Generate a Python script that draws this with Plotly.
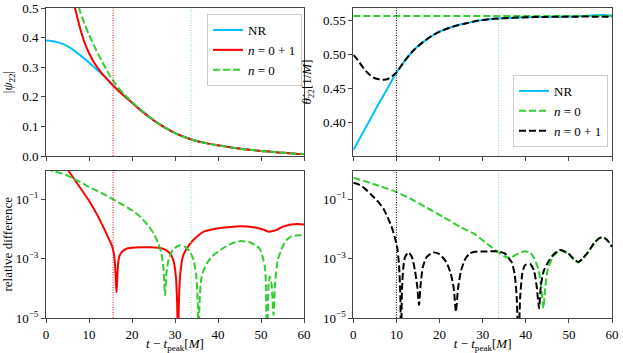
import numpy as np
import plotly.graph_objects as go
from plotly.subplots import make_subplots

# ---------------- top-left: |psi_22| ----------------
t_amp_nr = [0, 2, 4, 6, 8, 10, 12, 14, 16, 18, 20, 22, 24, 26, 28, 30, 32, 34, 36, 38, 40,
            42, 44, 46, 48, 50, 52, 54, 56, 58, 60]
amp_nr = [0.390, 0.387, 0.378, 0.362, 0.340, 0.316, 0.290, 0.263, 0.232, 0.205, 0.180, 0.155,
          0.132, 0.111, 0.093, 0.077, 0.065, 0.055, 0.047, 0.041, 0.036, 0.031, 0.027, 0.023,
          0.020, 0.017, 0.015, 0.012, 0.010, 0.008, 0.007]

t_amp_n01 = [6, 7, 8, 9, 10, 11, 12, 13, 14, 16, 18, 20, 22, 24, 26, 28, 30, 32, 34, 36, 38, 40,
             42, 44, 46, 48, 50, 52, 54, 56, 58, 60]
amp_n01 = [0.545, 0.485, 0.428, 0.382, 0.348, 0.320, 0.298, 0.279, 0.263, 0.232, 0.205, 0.180,
           0.155, 0.132, 0.111, 0.093, 0.077, 0.065, 0.055, 0.047, 0.041, 0.036, 0.031, 0.027,
           0.023, 0.020, 0.017, 0.015, 0.012, 0.010, 0.008, 0.007]

t_amp_n0 = [7, 8, 9, 10, 11, 12, 13, 14, 15, 16, 18, 20, 22, 24, 26, 28, 30, 32, 34, 36, 38, 40,
            42, 44, 46, 48, 50, 52, 54, 56, 58, 60]
amp_n0 = [0.535, 0.485, 0.445, 0.410, 0.378, 0.348, 0.320, 0.294, 0.268, 0.246, 0.211, 0.183,
          0.157, 0.133, 0.111, 0.093, 0.077, 0.065, 0.055, 0.047, 0.041, 0.036, 0.031, 0.027,
          0.023, 0.020, 0.017, 0.015, 0.012, 0.010, 0.008, 0.007]

# ---------------- top-right: frequency ----------------
t_freq_nr = [0, 2, 4, 6, 8, 10, 12, 14, 16, 18, 20, 22, 24, 26, 28, 30, 32, 34, 36, 40, 44, 48,
             52, 56, 58, 60]
freq_nr = [0.360, 0.383, 0.406, 0.429, 0.451, 0.473, 0.491, 0.506, 0.517, 0.526, 0.533, 0.538,
           0.542, 0.545, 0.548, 0.550, 0.5515, 0.5525, 0.553, 0.554, 0.5545, 0.555, 0.5555,
           0.557, 0.5575, 0.5565]

t_freq_n0 = [0, 60]
freq_n0 = [0.5559, 0.5559]

t_freq_n01 = [0, 1, 2, 3, 4, 5, 6, 7, 8, 9, 10, 12, 14, 16, 18, 20, 22, 24, 26, 28, 30, 32, 34,
              36, 40, 44, 48, 52, 56, 60]
freq_n01 = [0.499, 0.492, 0.483, 0.475, 0.469, 0.465, 0.4635, 0.4628, 0.464, 0.468, 0.4735,
            0.491, 0.506, 0.517, 0.526, 0.533, 0.538, 0.542, 0.545, 0.548, 0.550, 0.5515,
            0.5525, 0.553, 0.554, 0.5545, 0.5548, 0.555, 0.555, 0.555]

# ---------------- bottom-left: relative difference of amplitude (log10 values) ----------------
t_rd_amp_n01 = [4, 6, 8, 10, 12, 13.3, 14.5, 15.3, 15.8, 16.1, 16.3, 16.4, 16.5, 16.7, 17.0,
                17.6, 18.8, 20, 22, 24, 26, 27, 28, 29, 29.7, 30.2, 30.5, 30.7, 30.9, 31.2,
                31.9, 33.5, 35, 36.6, 38.5, 40.5, 43, 45.1, 48.2, 50.5, 51.7, 52.5, 53.6, 55,
                56.7, 58.5, 60]
log_rd_amp_n01 = [0.22, -0.20, -0.62, -1.05, -1.55, -1.93, -2.30, -2.55, -2.85, -3.30, -3.90,
                  -4.13, -3.90, -3.30, -2.95, -2.78, -2.66, -2.63, -2.62, -2.62, -2.63, -2.66,
                  -2.72, -2.85, -3.10, -3.60, -4.50, -6.00, -4.50, -3.55, -2.90, -2.50, -2.27,
                  -2.10, -2.02, -1.97, -1.93, -1.91, -1.94, -2.02, -2.09, -2.08, -2.03, -1.93,
                  -1.86, -1.83, -1.85]

t_rd_amp_n0 = [0, 2, 4.8, 6.4, 8, 10, 12, 14, 15.6, 18, 20, 22, 24, 25, 26, 26.8, 27.3, 27.7,
               28.0, 28.5, 29.5, 31.2, 32.5, 33.5, 34.3, 34.9, 35.3, 35.5, 35.7, 36.2, 37.4,
               38.8, 40.5, 43, 45.1, 47.4, 49, 49.8, 50.5, 51.0, 51.4, 51.8, 52.1, 52.5, 52.9,
               53.3, 53.9, 55, 55.9, 57, 58.2, 59, 60]
log_rd_amp_n0 = [0.02, -0.06, -0.19, -0.30, -0.42, -0.59, -0.72, -0.87, -1.00, -1.20, -1.37,
                 -1.60, -1.93, -2.15, -2.44, -2.80, -3.30, -4.23, -3.50, -3.05, -2.70, -2.55,
                 -2.62, -2.77, -3.05, -3.50, -4.50, -6.00, -4.50, -3.60, -3.16, -2.90, -2.71,
                 -2.50, -2.41, -2.45, -2.58, -2.69, -3.00, -3.40, -6.00, -3.80, -3.60, -3.90,
                 -4.90, -3.80, -3.05, -2.60, -2.38, -2.26, -2.22, -2.21, -2.23]

# ---------------- bottom-right: relative difference of frequency (log10 values) ----------------
t_rd_freq_n0 = [0, 5, 10, 13.2, 17, 20.9, 24.8, 28.4, 31, 33.3, 35, 36.4, 38, 39.7, 41, 42, 43,
                43.6, 44.1, 44.5, 45.2, 46.5, 48, 49.9, 51, 52.2, 53.3, 54.5, 56, 57.2, 58,
                58.8, 60]
log_rd_freq_n0 = [-0.27, -0.50, -0.755, -0.98, -1.28, -1.60, -1.93, -2.20, -2.50, -2.75, -2.92,
                  -2.97, -2.85, -2.75, -2.80, -3.00, -3.40, -4.00, -4.67, -4.00, -3.30, -2.90,
                  -2.72, -2.83, -3.00, -3.13, -2.98, -2.77, -2.45, -2.30, -2.29, -2.36, -2.60]

t_rd_freq_n01 = [0, 1, 2.7, 4, 5.8, 7, 8.1, 9, 9.7, 10.2, 10.6, 10.9, 11.07, 11.3, 11.6, 12.0,
                 12.8, 13.6, 14.3, 14.8, 15.25, 15.6, 16.1, 17, 18.6, 20, 21.5, 22.6, 23.3,
                 23.8, 24.3, 25, 26, 27, 28.2, 30.5, 32.9, 34, 35.2, 36.1, 36.7, 37.4, 37.9,
                 38.3, 38.7, 39.2, 39.8, 41, 41.9, 42.5, 43.1, 43.5, 44.2, 45.2, 46.5, 48,
                 49.9, 51, 52.2, 53.3, 54.5, 56, 57.2, 58, 58.8, 60]
log_rd_freq_n01 = [-0.44, -0.48, -0.64, -0.82, -1.09, -1.32, -1.65, -1.98, -2.32, -2.65, -3.20,
                   -4.20, -6.00, -4.00, -3.30, -2.95, -2.79, -2.95, -3.40, -3.90, -4.56, -3.90,
                   -3.30, -2.95, -2.79, -2.85, -3.10, -3.50, -4.00, -4.79, -4.00, -3.40, -3.00,
                   -2.83, -2.77, -2.76, -2.75, -2.77, -2.83, -3.00, -3.11, -3.50, -4.30, -6.00,
                   -4.30, -3.50, -3.22, -3.18, -3.40, -3.90, -4.67, -3.90, -3.40, -3.11, -2.85,
                   -2.71, -2.83, -3.00, -3.11, -2.98, -2.77, -2.45, -2.30, -2.29, -2.36, -2.60]

# vertical marker times
t_fit_left = 15.6
t_fit_right = 10.0
t_fit_green = 33.7

x_ticks = [0, 10, 20, 30, 40, 50, 60]

BLUE = "#00BFFF"
RED = "#FF0000"
GREEN = "#32CD32"
BLACK = "#000000"
FONT = "Liberation Serif"
DASH = "7px,3px"
DOT = "1px,1.5px"

fig = make_subplots(rows=2, cols=2)

# top-left
fig.add_trace(go.Scatter(x=t_amp_nr, y=amp_nr, mode="lines", name="NR",
                         line=dict(color=BLUE, width=2, shape="spline", smoothing=0.8),
                         legend="legend"), row=1, col=1)
fig.add_trace(go.Scatter(x=t_amp_n01, y=amp_n01, mode="lines", name="<i>n</i> = 0 + 1",
                         line=dict(color=RED, width=2, shape="spline", smoothing=0.8),
                         legend="legend"), row=1, col=1)
fig.add_trace(go.Scatter(x=t_amp_n0, y=amp_n0, mode="lines", name="<i>n</i> = 0",
                         line=dict(color=GREEN, width=2, dash=DASH, shape="spline", smoothing=0.8),
                         legend="legend"), row=1, col=1)

# top-right
fig.add_trace(go.Scatter(x=t_freq_nr, y=freq_nr, mode="lines", name="NR",
                         line=dict(color=BLUE, width=2, shape="spline", smoothing=0.8),
                         legend="legend2"), row=1, col=2)
fig.add_trace(go.Scatter(x=t_freq_n0, y=freq_n0, mode="lines", name="<i>n</i> = 0",
                         line=dict(color=GREEN, width=2, dash=DASH),
                         legend="legend2"), row=1, col=2)
fig.add_trace(go.Scatter(x=t_freq_n01, y=freq_n01, mode="lines", name="<i>n</i> = 0 + 1",
                         line=dict(color=BLACK, width=2, dash=DASH, shape="spline", smoothing=0.8),
                         legend="legend2"), row=1, col=2)

# bottom-left
fig.add_trace(go.Scatter(x=t_rd_amp_n01, y=np.power(10.0, log_rd_amp_n01), mode="lines",
                         line=dict(color=RED, width=2, shape="spline", smoothing=0.6),
                         showlegend=False), row=2, col=1)
fig.add_trace(go.Scatter(x=t_rd_amp_n0, y=np.power(10.0, log_rd_amp_n0), mode="lines",
                         line=dict(color=GREEN, width=2, dash=DASH, shape="spline", smoothing=0.6),
                         showlegend=False), row=2, col=1)

# bottom-right
fig.add_trace(go.Scatter(x=t_rd_freq_n0, y=np.power(10.0, log_rd_freq_n0), mode="lines",
                         line=dict(color=GREEN, width=2, dash=DASH, shape="spline", smoothing=0.6),
                         showlegend=False), row=2, col=2)
fig.add_trace(go.Scatter(x=t_rd_freq_n01, y=np.power(10.0, log_rd_freq_n01), mode="lines",
                         line=dict(color=BLACK, width=2, dash=DASH, shape="spline", smoothing=0.6),
                         showlegend=False), row=2, col=2)

# vertical dotted lines
for r in (1, 2):
    fig.add_vline(x=t_fit_left, line=dict(color=RED, width=1, dash=DOT), row=r, col=1)
    fig.add_vline(x=t_fit_green, line=dict(color="#7FE07F", width=1, dash=DOT), row=r, col=1)
    fig.add_vline(x=t_fit_right, line=dict(color=BLACK, width=1, dash=DOT), row=r, col=2)
    fig.add_vline(x=t_fit_green, line=dict(color="#7FE07F", width=1, dash=DOT), row=r, col=2)

xl = [46 / 623, 304 / 623]
xr = [353.3 / 623, 612 / 623]
yt = [1 - 156 / 353, 1 - 8 / 353]
yb = [1 - 318 / 353, 1 - 170.5 / 353]

axis_common = dict(showline=True, mirror=True, linecolor="#444", linewidth=1,
                   ticks="outside", ticklen=4, tickcolor="#444", showgrid=False,
                   zeroline=False, automargin=False,
                   tickfont=dict(family=FONT, size=13, color="black"))

xtitle = "<i>t</i> − <i>t</i><sub>peak</sub>[<i>M</i>]"

fig.update_layout(
    template="none",
    xaxis=dict(domain=xl, range=[0, 60], tickvals=x_ticks, showticklabels=False, **axis_common),
    xaxis2=dict(domain=xr, range=[0, 60], tickvals=x_ticks, showticklabels=False, **axis_common),
    xaxis3=dict(domain=xl, range=[0, 60], tickvals=x_ticks, **axis_common,
                title=dict(text=xtitle, font=dict(family=FONT, size=13), standoff=2)),
    xaxis4=dict(domain=xr, range=[0, 60], tickvals=x_ticks, **axis_common,
                title=dict(text=xtitle, font=dict(family=FONT, size=13), standoff=2)),
    yaxis=dict(domain=yt, range=[0, 0.5], tickvals=[0, 0.1, 0.2, 0.3, 0.4, 0.5],
               tickformat=".1f", **axis_common,
               title=dict(text="|<i>ψ</i><sub>22</sub>|", font=dict(family=FONT, size=13), standoff=8)),
    yaxis2=dict(domain=yt, range=[0.3515, 0.5676], tickvals=[0.40, 0.45, 0.50, 0.55],
                tickformat=".2f", **axis_common,
                title=dict(text="<i>θ̇</i><sub>22</sub>[1/<i>M</i>]", font=dict(family=FONT, size=13),
                           standoff=8)),
    yaxis3=dict(domain=yb, type="log", range=[-5, -0.03], tickvals=[1e-5, 1e-3, 1e-1],
                ticktext=["10<sup>−5</sup>", "10<sup>−3</sup>", "10<sup>−1</sup>"], **axis_common,
                title=dict(text="relative difference", font=dict(family=FONT, size=13), standoff=6)),
    yaxis4=dict(domain=yb, type="log", range=[-5, -0.03], tickvals=[1e-5, 1e-3, 1e-1],
                ticktext=["10<sup>−5</sup>", "10<sup>−3</sup>", "10<sup>−1</sup>"], **axis_common),
    legend=dict(x=302 / 623, xanchor="right", y=1 - 14 / 353, yanchor="top",
                bgcolor="white", bordercolor="#cccccc", borderwidth=1,
                font=dict(family=FONT, size=13), itemwidth=30, tracegroupgap=0),
    legend2=dict(x=608 / 623, xanchor="right", y=1 - 147 / 353, yanchor="bottom",
                 bgcolor="white", bordercolor="#cccccc", borderwidth=1,
                 font=dict(family=FONT, size=13), itemwidth=30, tracegroupgap=0),
    width=623, height=353,
    margin=dict(l=0, r=0, t=0, b=0),
    plot_bgcolor="white", paper_bgcolor="white",
    font=dict(family=FONT, size=13, color="black"),
)

fig.write_html("out.html", config={"displayModeBar": False},
               post_script="document.body.style.margin='0';document.body.style.padding='0';")
